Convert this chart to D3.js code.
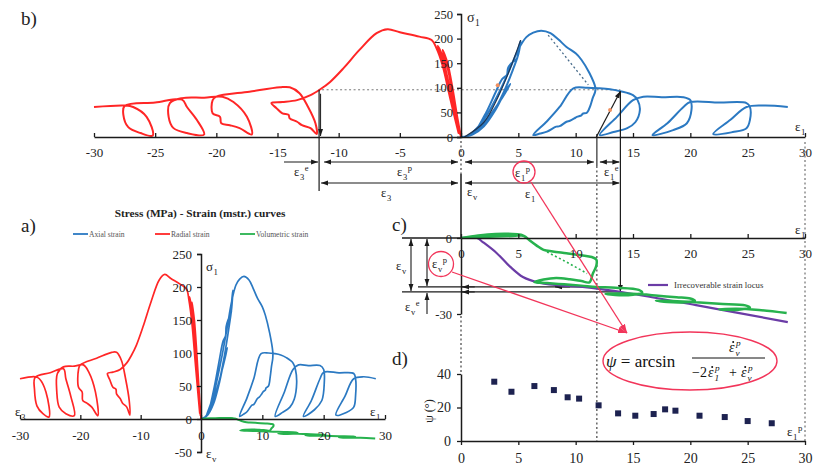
<!DOCTYPE html>
<html>
<head>
<meta charset="utf-8">
<script src="https://cdn.jsdelivr.net/npm/d3@7/dist/d3.min.js"></script>
<style>
  body { margin: 0; background: #fff; }
  text { font-family: "Liberation Serif", "Times New Roman", serif; }
</style>
</head>
<body>
<svg id="fig" width="814" height="465"></svg>
<script>
// ---------- data (strains in mstr., stress in MPa) ----------
// axial strain vs axial stress, full cyclic history
const axialCurve = [
  [0,0],[1.0,5],[2.0,22],[3.0,55],[3.8,90],[4.3,108],
  [3.6,80],[2.4,40],[1.2,8],[0.6,2],
  [1.6,15],[2.8,50],[3.8,95],[4.5,135],[5.0,168],[5.2,195],
  [5.0,178],[4.9,160],[4.4,150],[4.1,140],[4.0,126],[3.6,118],[3.0,90],[2.2,50],[1.2,10],[0.8,3],
  [2.0,35],[3.2,85],[4.2,135],[5.0,178],[5.7,203],[6.3,212],[7.0,216],
  [7.8,211],[8.5,198],[9.2,183],[10.0,170],[10.5,157],[11.2,130],[11.7,102],[11.7,92],
  [11.5,80],[11.3,65],[11.0,50],[10.6,47],[10.5,44],[10.1,41],[9.9,38],[9.5,33],[9.2,31],[8.6,22],[8.3,21],[7.5,11],[6.9,7],[6.3,4],
  [7.5,32],[8.6,61],[9.8,99],[11.0,100],[12.0,99],[13.0,97],[13.9,93],[15.0,85],[15.4,75],[15.6,55],[15.2,30],[14.5,18],[13.3,10],[12.1,4],
  [13.6,41],[15.0,75],[15.9,82],[17.5,81],[19.4,81],
  [20.0,75],[20.1,55],[19.7,28],[18.5,14],[16.7,4],
  [18.0,28],[19.4,61],[20.0,71],[22.5,70],[24.9,69],
  [25.2,61],[25.2,35],[24.9,18],[23.7,10],[22.0,6],
  [23.5,35],[24.9,61],[26.5,64],[28.5,61]
];
// radial strain vs axial stress
const radialCurve = [
  [0,0],[-0.3,40],[-0.7,100],[-1.1,150],[-1.5,177],
  [-1.0,130],[-0.5,60],[-0.1,5],
  [-0.6,60],[-1.1,120],[-1.6,170],[-1.9,185],
  [-1.4,140],[-0.8,70],[-0.2,8],
  [-0.9,80],[-1.5,145],[-2.0,180],[-2.4,197],[-3.4,204],[-5.0,213],[-6.0,219],
  [-6.9,211],[-8.3,177],[-9.6,140],[-10.7,112],[-11.5,97],[-12.3,85],[-13.4,75],[-14.6,71],[-15.5,69],
  [-15.1,59],[-14.6,48],[-14.1,45],[-14.0,38],[-13.4,31],[-13.0,24],[-12.3,18],[-11.8,6],
  [-11.9,28],[-12.5,61],[-13.2,89],[-14.0,101],[-14.8,101],
  [-17.3,92],[-20.0,82],
  [-20.3,75],[-20.3,48],[-19.7,41],[-19.6,28],[-18.9,24],[-18.1,18],[-17.1,5],
  [-17.5,41],[-18.6,71],[-19.5,82],
  [-21.0,80],[-22.8,79],
  [-23.8,69],[-23.9,41],[-23.5,18],[-22.4,8],[-21.0,5],
  [-21.6,35],[-22.4,61],[-22.8,76],
  [-25.0,70],[-27.5,63],
  [-27.6,45],[-27.2,20],[-26.2,8],[-25.2,3],
  [-25.7,41],[-26.8,61],[-27.5,64],
  [-30,61]
];
// axial strain vs volumetric strain
const volumetricCurve = [
  [0,0],[1.5,1.0],[3,1.6],[4.5,1.6],[5.4,1.2],[4.5,0.8],[3,0.6],[1.5,0.3],[0.5,0.1],
  [2,0.8],[4,1.3],[5.5,0.8],[6.0,-1.0],[6.6,-3.0],[7.2,-4.7],[8.0,-5.3],[9.2,-6.0],[10.5,-6.8],
  [11.4,-7.5],[11.8,-8.5],[11.8,-11],[11.5,-14],[11.2,-17.5],
  [10.5,-17.0],[9.5,-16.3],[8.3,-15.8],[7.2,-16.4],[6.4,-17.4],
  [7.5,-17.8],[9.0,-18.3],[10.5,-18.8],[11.8,-19.3],[13.5,-19.6],[15.5,-20.5],
  [15.8,-21.6],[15.0,-22.4],[13.8,-22.6],[12.6,-22.0],
  [14.0,-21.9],[15.8,-22.2],[17.2,-22.8],[18.8,-23.4],[20.0,-23.9],
  [20.4,-24.8],[19.5,-25.4],[18.0,-25.3],[17.0,-24.7],
  [18.5,-24.9],[20.5,-25.4],[22.5,-26.0],[24.8,-26.6],
  [25.2,-27.5],[24.2,-28.3],[22.5,-28.2],
  [24.0,-27.9],[26.0,-28.4],[28.4,-29.6]
];
// unloading branch drawn dotted between the first loop ends
const volumetricUnloadGuide = [[7.5,-5.5],[9.2,-9.5],[11.0,-14.0]];
// irrecoverable strain locus (plastic axial vs plastic volumetric)
const irrecoverableLocus = [
  [0,0],[1.4,0],[1.9,-1.6],[3.1,-5.9],[4.3,-11.4],[5.4,-15.4],[6.6,-17.4],
  [8.4,-18.6],[10.6,-19.3],[14.5,-21.7],[20.5,-26.5],[28.5,-33.2]
];
// dilatancy angle vs plastic axial strain
const dilatancyPoints = [
  [2.9,35.4],[4.4,29.4],[6.4,32.8],[8.1,30.4],[9.3,26.1],[10.3,25.3],[12.0,21.3],
  [13.7,16.5],[15.2,15.1],[16.8,16.1],[17.8,18.9],[18.7,18.1],[20.8,15.1],
  [23.0,14.3],[25.0,11.9],[27.1,10.6]
];
// linear guides on the stress-strain plot
const elasticChord = [[11.8,0],[13.9,93]];
const loadingGuide = [[0.3,0],[2.0,30],[3.2,80],[4.3,140],[5.2,197]];
const softeningGuide = [[7.6,207],[11.1,106]];
const guideMarks = [[3.2,105],[13.0,55]];

// reference values for the strain decomposition
const unloadStress = 96;
const eps3Total = -11.6;
const eps1Total = 13.9;
const eps1Plastic = 11.85;
const epsVTotal = -21.3;
const epsVPlastic = -19.3;

// ticks
const strainTicksB = [-30,-25,-20,-15,-10,-5,0,5,10,15,20,25,30];
const stressTicksB = [0,50,100,150,200,250];
const strainTicksA = [-30,-20,-10,0,10,20,30];
const stressTicksA = [-50,0,50,100,150,200,250];
const strainTicksPos = [0,5,10,15,20,25,30];
const volTicks = [0,-30];
const psiTicks = [0,20,40];

const seriesNames = ["Axial strain", "Radial strain", "Volumetric strain"];

// ---------- styles ----------
const BLUE = "#2b79c2", RED = "#ff2626", GREEN = "#27b24e", PURPLE = "#6b3ca6";
const INK = "#1b1b1b", PINK = "#f2355a", MARK = "#1d2250";

const svg = d3.select("#fig");
const defs = svg.append("defs");
function marker(id, color, size) {
  defs.append("marker").attr("id", id)
    .attr("viewBox", "0 0 10 10").attr("refX", 10).attr("refY", 5)
    .attr("markerWidth", size).attr("markerHeight", size)
    .attr("markerUnits", "userSpaceOnUse").attr("orient", "auto-start-reverse")
    .append("path").attr("d", "M0,1.5L10,5L0,8.5z").attr("fill", color);
}
marker("ah", INK, 7);
marker("ahr", PINK, 9);

function arrow(g, x1, y1, x2, y2, start, end, opts = {}) {
  const l = g.append("line").attr("x1", x1).attr("y1", y1).attr("x2", x2).attr("y2", y2)
    .attr("stroke", opts.color || INK).attr("stroke-width", opts.w || 1.2);
  if (opts.dash) l.attr("stroke-dasharray", opts.dash);
  if (start) l.attr("marker-start", "url(#ah)");
  if (end) l.attr("marker-end", "url(#" + (opts.marker || "ah") + ")");
  return l;
}
// symbol with stacked subscript / superscript
function sym(g, x, y, base, sub, sup, size, opts = {}) {
  const t = g.append("text").attr("x", x).attr("y", y).attr("font-size", size)
    .attr("fill", opts.color || "#222");
  if (opts.italic) t.attr("font-style", "italic");
  t.append("tspan").text(base);
  const bw = opts.baseWidth || size * 0.45;
  if (sub) t.append("tspan").attr("x", x + bw).attr("y", y + size * 0.28)
    .attr("font-size", size * 0.68).text(sub);
  if (sup) t.append("tspan").attr("x", x + bw + (sub ? size * 0.38 : 0)).attr("y", y - size * (sub ? 0.38 : 0.42))
    .attr("font-size", size * 0.68).text(sup);
  return t;
}
// strain-rate symbol: italic epsilon with a dot above and stacked indices
function epsRate(g, x, y, sub, sup, size) {
  g.append("text").attr("x", x).attr("y", y).attr("font-size", size).attr("font-style", "italic")
    .attr("fill", "#111").text("ε");
  g.append("circle").attr("cx", x + size * 0.3).attr("cy", y - size * 0.72).attr("r", 1).attr("fill", "#111");
  g.append("text").attr("x", x + size * 0.46).attr("y", y + size * 0.28).attr("font-size", size * 0.66)
    .attr("font-style", "italic").attr("fill", "#111").text(sub);
  g.append("text").attr("x", x + size * 0.5).attr("y", y - size * 0.42).attr("font-size", size * 0.66)
    .attr("font-style", "italic").attr("fill", "#111").text(sup);
}
function styleAxis(g, size) {
  g.select(".domain").attr("stroke", INK).attr("stroke-width", 1.5);
  g.selectAll(".tick line").attr("stroke", INK).attr("stroke-width", 1.3);
  g.selectAll(".tick text").attr("font-family", '"Liberation Serif", serif')
    .attr("font-size", size).attr("fill", "#222");
}
const fmt = d => String(d);

// ---------- panel b : stress–strain with strain decomposition ----------
const bx = d3.scaleLinear().domain([-30, 0, 30]).range([94, 461, 805]);
const by = d3.scaleLinear().domain([0, 250]).range([137, 14]);
const gb = svg.append("g");

// dotted guide at the unloading stress
gb.append("line").attr("x1", bx(eps3Total) + 3).attr("x2", bx(eps1Total))
  .attr("y1", by(unloadStress)).attr("y2", by(unloadStress))
  .attr("stroke", "#777").attr("stroke-width", 1).attr("stroke-dasharray", "2,2.5");

const lineB = d3.line().x(d => bx(d[0])).y(d => by(d[1])).curve(d3.curveCatmullRom.alpha(0.5));
gb.append("path").datum(radialCurve).attr("d", lineB).attr("fill", "none")
  .attr("stroke", RED).attr("stroke-width", 2).attr("stroke-linejoin", "round");
gb.append("path").datum(axialCurve).attr("d", lineB).attr("fill", "none")
  .attr("stroke", BLUE).attr("stroke-width", 2).attr("stroke-linejoin", "round");
gb.append("path").datum(loadingGuide).attr("d", lineB).attr("fill", "none")
  .attr("stroke", "#1d3350").attr("stroke-width", 1.2);
gb.append("path").datum(softeningGuide).attr("d", d3.line().x(d => bx(d[0])).y(d => by(d[1])))
  .attr("fill", "none").attr("stroke", "#4a6d8c").attr("stroke-width", 1.3).attr("stroke-dasharray", "2,2.5");
arrow(gb, bx(elasticChord[0][0]), by(elasticChord[0][1]), bx(elasticChord[1][0]), by(elasticChord[1][1]), false, true, { w: 1.2 });
gb.selectAll("circle.gm").data(guideMarks).join("circle").attr("class", "gm")
  .attr("cx", d => bx(d[0])).attr("cy", d => by(d[1])).attr("r", 2).attr("fill", "#f09060");

const bxAxis = gb.append("g").attr("transform", `translate(0,${by(0)})`)
  .call(d3.axisBottom(bx).tickValues(strainTicksB).tickFormat(fmt).tickSizeInner(-4).tickSizeOuter(0).tickPadding(11));
styleAxis(bxAxis, 13);
const byAxis = gb.append("g").attr("transform", `translate(${bx(0)},0)`)
  .call(d3.axisLeft(by).tickValues(stressTicksB).tickFormat(fmt).tickSizeInner(4).tickSizeOuter(4).tickPadding(4));
styleAxis(byAxis, 12.5);
sym(gb, 467, 22, "σ", "1", null, 14, { baseWidth: 8 });
sym(gb, 795, 131, "ε", "1", null, 13, { baseWidth: 6 });
gb.append("text").attr("x", 21).attr("y", 25).attr("font-size", 19).attr("fill", "#222").text("b)");

// ---------- strain decomposition annotations ----------
const ga = svg.append("g");
const xe3 = bx(eps3Total), xe1 = bx(eps1Total), xp1 = bx(eps1Plastic), x0 = bx(0), x30 = bx(30);
// verticals
ga.append("line").attr("x1", xe3).attr("x2", xe3).attr("y1", by(unloadStress)).attr("y2", 191)
  .attr("stroke", INK).attr("stroke-width", 1.2);
arrow(ga, xe3 + 1.5, by(unloadStress) + 4, xe3 + 1.5, by(0) - 1, false, true, { w: 1 });
ga.append("line").attr("x1", x0).attr("x2", x0).attr("y1", 141).attr("y2", 174)
  .attr("stroke", INK).attr("stroke-width", 1).attr("stroke-dasharray", "2,2.5");
ga.append("line").attr("x1", x0).attr("x2", x0).attr("y1", 174).attr("y2", 238)
  .attr("stroke", INK).attr("stroke-width", 1.5);
ga.append("line").attr("x1", x0).attr("x2", x0).attr("y1", 316).attr("y2", 372)
  .attr("stroke", INK).attr("stroke-width", 1).attr("stroke-dasharray", "2,2.5");
ga.append("line").attr("x1", xp1).attr("x2", xp1).attr("y1", by(0) - 3).attr("y2", 166)
  .attr("stroke", INK).attr("stroke-width", 1.1);
ga.append("line").attr("x1", xp1).attr("x2", xp1).attr("y1", 166).attr("y2", 441)
  .attr("stroke", INK).attr("stroke-width", 1).attr("stroke-dasharray", "2,2.5");
ga.append("line").attr("x1", x30).attr("x2", x30).attr("y1", 142).attr("y2", 441)
  .attr("stroke", "#555").attr("stroke-width", 1).attr("stroke-dasharray", "2,2.5");
arrow(ga, xe1, by(unloadStress - 3), xe1, 292, false, true, { w: 1.2 });

// horizontal strain arrows
const r1 = 162, r2 = 183;
arrow(ga, 284, r1, xe3 - 1, r1, false, true);
arrow(ga, xe3 + 5, r1, x0 - 3, r1, true, true);
arrow(ga, x0 + 4, r1, xp1 - 3, r1, true, true);
arrow(ga, xp1 + 3, r1, xe1 - 1, r1, true, true);
arrow(ga, xe3 + 2, r2, x0 - 3, r2, true, true);
arrow(ga, x0 + 4, r2, xe1 - 1, r2, true, true);

sym(ga, 294, 176, "ε", "3", "e", 12.5, { baseWidth: 6 });
sym(ga, 397, 176, "ε", "3", "p", 12.5, { baseWidth: 6 });
sym(ga, 515, 177, "ε", "1", "p", 12.5, { baseWidth: 6 });
sym(ga, 604, 176, "ε", "1", "e", 12.5, { baseWidth: 6 });
sym(ga, 381, 197, "ε", "3", null, 12.5, { baseWidth: 6 });
sym(ga, 467, 196, "ε", "v", null, 12.5, { baseWidth: 6 });
sym(ga, 525, 198, "ε", "1", null, 12.5, { baseWidth: 6 });

// ---------- panel c : volumetric strain ----------
const cx = d3.scaleLinear().domain([0, 30]).range([461, 805]);
const cy = d3.scaleLinear().domain([-30, 0]).range([314, 238]);
const gc = svg.append("g");
const lineC = d3.line().x(d => cx(d[0])).y(d => cy(d[1])).curve(d3.curveCatmullRom.alpha(0.5));

// decomposition lines of volumetric strain
gc.append("line").attr("x1", 402).attr("x2", cx(0)).attr("y1", cy(0)).attr("y2", cy(0))
  .attr("stroke", INK).attr("stroke-width", 1.3);
gc.append("line").attr("x1", 418).attr("x2", cx(eps1Plastic)).attr("y1", cy(epsVPlastic)).attr("y2", cy(epsVPlastic))
  .attr("stroke", INK).attr("stroke-width", 1.3);
gc.append("line").attr("x1", 402).attr("x2", cx(eps1Total)).attr("y1", cy(epsVTotal)).attr("y2", cy(epsVTotal))
  .attr("stroke", INK).attr("stroke-width", 1.3);
arrow(gc, 411, cy(0) + 1, 411, cy(epsVTotal) - 1, true, true, { w: 1.1 });
arrow(gc, 427, cy(0) + 1, 427, cy(epsVPlastic) - 1, true, true, { w: 1.1 });
arrow(gc, 427, cy(-30), 427, cy(epsVTotal) + 1, false, true, { w: 1.1 });
arrow(gc, cx(1.2), cy(epsVPlastic), cx(0) + 1, cy(epsVPlastic), false, true, { w: 1 });
arrow(gc, cx(1.2), cy(epsVTotal), cx(0) + 1, cy(epsVTotal), false, true, { w: 1 });
arrow(gc, cx(9.5), cy(epsVPlastic), cx(8.2), cy(epsVPlastic), false, true, { w: 1 });

gc.append("path").datum(volumetricUnloadGuide).attr("d", d3.line().x(d => cx(d[0])).y(d => cy(d[1])))
  .attr("fill", "none").attr("stroke", GREEN).attr("stroke-width", 1.6).attr("stroke-dasharray", "2,2.5");
gc.append("path").datum(irrecoverableLocus).attr("d", lineC).attr("fill", "none")
  .attr("stroke", PURPLE).attr("stroke-width", 2.2);
gc.append("path").datum(volumetricCurve).attr("d", lineC).attr("fill", "none")
  .attr("stroke", GREEN).attr("stroke-width", 2.5).attr("stroke-linejoin", "round");

const cxAxis = gc.append("g").attr("transform", `translate(0,${cy(0)})`)
  .call(d3.axisBottom(cx).tickValues(strainTicksPos).tickFormat(fmt).tickSizeInner(-4).tickSizeOuter(0).tickPadding(11));
styleAxis(cxAxis, 13);
const cyAxis = gc.append("g").attr("transform", `translate(${cx(0)},0)`)
  .call(d3.axisLeft(cy).tickValues(volTicks).tickFormat(fmt).tickSizeInner(4).tickSizeOuter(0).tickPadding(5));
styleAxis(cyAxis, 12.5);

sym(gc, 795, 234, "ε", "1", null, 13, { baseWidth: 6 });
sym(gc, 396, 270, "ε", "v", null, 12.5, { baseWidth: 6 });
sym(gc, 432, 268, "ε", "v", "p", 12.5, { baseWidth: 6 });
sym(gc, 405, 311, "ε", "v", "e", 12.5, { baseWidth: 6 });
gc.append("text").attr("x", 392).attr("y", 231).attr("font-size", 19).attr("fill", "#222").text("c)");

// legend of panel c
gc.append("line").attr("x1", 648).attr("x2", 668).attr("y1", 285).attr("y2", 285)
  .attr("stroke", PURPLE).attr("stroke-width", 2.2);
gc.append("text").attr("x", 674).attr("y", 288).attr("font-size", 8.8).attr("fill", "#333")
  .text("Irrecoverable strain locus");

// ---------- panel d : dilatancy angle ----------
const dx = cx;
const dyS = d3.scaleLinear().domain([0, 40]).range([441, 374]);
const gd = svg.append("g");
gd.selectAll("rect.pt").data(dilatancyPoints).join("rect").attr("class", "pt")
  .attr("x", d => dx(d[0]) - 3).attr("y", d => dyS(d[1]) - 3).attr("width", 6).attr("height", 6)
  .attr("fill", MARK);
const dxAxis = gd.append("g").attr("transform", `translate(0,${dyS(0)})`)
  .call(d3.axisBottom(dx).tickValues(strainTicksPos).tickFormat(fmt).tickSizeInner(4).tickSizeOuter(0).tickPadding(8));
styleAxis(dxAxis, 14);
const dyAxis = gd.append("g").attr("transform", `translate(${dx(0)},0)`)
  .call(d3.axisLeft(dyS).tickValues(psiTicks).tickFormat(fmt).tickSizeInner(4).tickSizeOuter(0).tickPadding(6));
styleAxis(dyAxis, 14);
gd.append("text").attr("transform", "translate(433,411) rotate(-90)").attr("text-anchor", "middle")
  .attr("font-size", 12).attr("fill", "#222").text("ψ (°)");
sym(gd, 787, 436, "ε", "1", "p", 13, { baseWidth: 6 });
gd.append("text").attr("x", 392).attr("y", 365).attr("font-size", 19).attr("fill", "#222").text("d)");

// ---------- panel a : overview of the three curves ----------
const ax = d3.scaleLinear().domain([-30, 0, 30]).range([20, 201, 385]);
const ay = d3.scaleLinear().domain([-50, 250]).range([452, 254]);
const gA = svg.append("g");
const lineA = d3.line().x(d => ax(d[0])).y(d => ay(d[1])).curve(d3.curveCatmullRom.alpha(0.5));
gA.append("path").datum(radialCurve).attr("d", lineA).attr("fill", "none").attr("stroke", RED).attr("stroke-width", 1.7);
gA.append("path").datum(axialCurve).attr("d", lineA).attr("fill", "none").attr("stroke", BLUE).attr("stroke-width", 1.7);
gA.append("path").datum(volumetricCurve).attr("d", lineA).attr("fill", "none").attr("stroke", GREEN).attr("stroke-width", 2);

const axAxis = gA.append("g").attr("transform", `translate(0,${ay(0)})`)
  .call(d3.axisBottom(ax).tickValues(strainTicksA).tickFormat(fmt).tickSizeInner(-4).tickSizeOuter(0).tickPadding(12));
styleAxis(axAxis, 13);
const ayAxis = gA.append("g").attr("transform", `translate(${ax(0)},0)`)
  .call(d3.axisLeft(ay).tickValues(stressTicksA).tickFormat(fmt).tickSizeInner(4).tickSizeOuter(4).tickPadding(5));
styleAxis(ayAxis, 13);
sym(gA, 206, 271, "σ", "1", null, 13, { baseWidth: 7.5 });
sym(gA, 15, 416, "ε", "3", null, 13, { baseWidth: 6 });
sym(gA, 370, 416, "ε", "1", null, 13, { baseWidth: 6 });
sym(gA, 206, 458, "ε", "v", null, 13, { baseWidth: 6 });
gA.append("text").attr("x", 21).attr("y", 232).attr("font-size", 19).attr("fill", "#222").text("a)");

gA.append("text").attr("x", 200).attr("y", 217).attr("text-anchor", "middle").attr("font-size", 11.3)
  .attr("font-weight", "bold").attr("fill", "#222").text("Stress (MPa) - Strain (mstr.) curves");
const legendColors = [BLUE, RED, GREEN];
const legendX = [73, 155, 240];
seriesNames.forEach((n, i) => {
  gA.append("line").attr("x1", legendX[i]).attr("x2", legendX[i] + 15).attr("y1", 234).attr("y2", 234)
    .attr("stroke", legendColors[i]).attr("stroke-width", 1.8);
  gA.append("text").attr("x", legendX[i] + 16).attr("y", 236.5).attr("font-size", 7.6).attr("fill", "#555").text(n);
});

// ---------- dilatancy definition ----------
const gf = svg.append("g");
gf.append("circle").attr("cx", 524).attr("cy", 172).attr("r", 11).attr("fill", "none").attr("stroke", PINK).attr("stroke-width", 1.3);
gf.append("circle").attr("cx", 441).attr("cy", 264).attr("r", 12.5).attr("fill", "none").attr("stroke", PINK).attr("stroke-width", 1.3);
arrow(gf, 531, 182, 627, 333, false, true, { color: PINK, w: 1.3, marker: "ahr" });
arrow(gf, 452, 272, 627, 333, false, true, { color: PINK, w: 1.3, marker: "ahr" });
gf.append("ellipse").attr("cx", 690).attr("cy", 361).attr("rx", 87).attr("ry", 29)
  .attr("fill", "#fff").attr("stroke", PINK).attr("stroke-width", 1.4);
gf.append("text").attr("x", 606).attr("y", 367).attr("font-size", 17).attr("fill", "#111")
  .html('<tspan font-style="italic">ψ</tspan> = arcsin');
gf.append("line").attr("x1", 692).attr("x2", 765).attr("y1", 358).attr("y2", 358).attr("stroke", "#111").attr("stroke-width", 1);
epsRate(gf, 729, 352, "v", "p", 14);
gf.append("text").attr("x", 692).attr("y", 377).attr("font-size", 14).attr("fill", "#111").text("−2");
epsRate(gf, 708, 377, "1", "p", 14);
gf.append("text").attr("x", 729).attr("y", 377).attr("font-size", 14).attr("fill", "#111").text("+");
epsRate(gf, 741, 377, "v", "p", 14);
</script>
</body>
</html>
